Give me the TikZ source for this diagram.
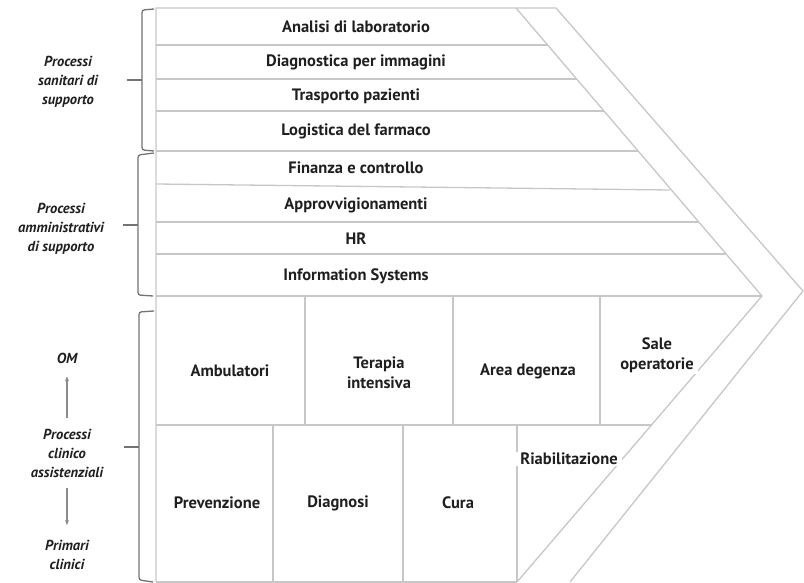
\documentclass[tikz,border=0pt]{standalone}
\usepackage{fontspec}
\setmainfont{PT Sans}
\usetikzlibrary{arrows.meta}
\begin{document}
\begin{tikzpicture}[x=1pt,y=-1pt,
    grid/.style={draw=black!22,line width=1.3pt},
    brace/.style={draw=black!55,line width=1.3pt,rounded corners=2.5pt},
    lab/.style={font=\bfseries\fontsize{16.5}{20}\selectfont,text=black!88,align=center,inner sep=1pt},
    mask/.style={lab,fill=white,inner xsep=4pt,inner ysep=1pt},
    side/.style={font=\bfseries\itshape\fontsize{14.5}{19}\selectfont,text=black!88,align=center,inner sep=1pt},
    arr/.style={-{Stealth[length=5pt,width=4pt]},draw=black!45,line width=1.2pt}]
  \useasboundingbox (0,0) rectangle (804,583);
  % chevron
  \draw[grid] (156,582) -- (156,8) -- (556,8) -- (803,291) -- (570,582);
  \draw[grid] (516,8) -- (762,296) -- (517,582);
  % support rows
  \foreach \y in {45,79,111,151,222,254}
    \draw[grid] (156,\y) -- ({516+0.854*(\y-8)},\y);
  \draw[grid] (156,184) -- (670,190);
  \draw[grid] (156,296) -- (762,296);
  % clinical blocks
  \draw[grid] (156,425) -- (652,425);
  \draw[grid] (156,582) -- (517,582);
  \foreach \x in {305,453,600}
    \draw[grid] (\x,296) -- (\x,425);
  \foreach \x in {273,403,517}
    \draw[grid] (\x,425) -- (\x,582);
  % braces
  \draw[brace] (154,9) -- (142,10) -- (142,150) -- (154,151);
  \draw[brace] (154,153) -- (138,155) -- (138,295) -- (153,296);
  \draw[brace] (154,311) -- (139,312) -- (139,580) -- (153,582);
  \draw[brace] (142,80) -- (127,80);
  \draw[brace] (138,225) -- (123,225);
  \draw[brace] (139,447) -- (124,447);
  % labels
  \node[lab] (ana) at (356,27) {Analisi di laboratorio};
  \node[lab] (diag) at (356,62) {Diagnostica per immagini};
  \node[lab] (tras) at (356,96) {Trasporto pazienti};
  \node[lab] (logi) at (356,131) {Logistica del farmaco};
  \node[lab] (fin) at (356,168) {Finanza e controllo};
  \node[lab] (appr) at (356,205) {Approvvigionamenti};
  \node[lab] (hr) at (356,239) {HR};
  \node[lab] (info) at (356,276) {Information Systems};
  \node[lab] (amb) at (230,371) {Ambulatori};
  \node[lab] (ter) at (379,373) {Terapia\\intensiva};
  \node[lab] (area) at (528,371) {Area degenza};
  \node[mask] (sale) at (657,355) {Sale\\operatorie};
  \node[lab] (prev) at (217,503) {Prevenzione};
  \node[lab] (dgn) at (338,503) {Diagnosi};
  \node[lab] (cura) at (458,503) {Cura};
  \node[mask] (riab) at (569,459) {Riabilitazione};
  \node[side] (sanit) at (68,82) {Processi\\sanitari di\\supporto};
  \node[side] (ammin) at (61,229) {Processi\\amministrativi\\di supporto};
  \node[side] (om) at (67,358) {OM};
  \node[side] (clin) at (67,453) {Processi\\clinico\\assistenziali};
  \node[side] (prim) at (67,555) {Primari\\clinici};
  \draw[arr,shorten <=10pt,shorten >=12pt] (clin.north) -- (om.south);
  \draw[arr,shorten <=10pt,shorten >=14pt] (clin.south) -- (prim.north);
\end{tikzpicture}
\end{document}
